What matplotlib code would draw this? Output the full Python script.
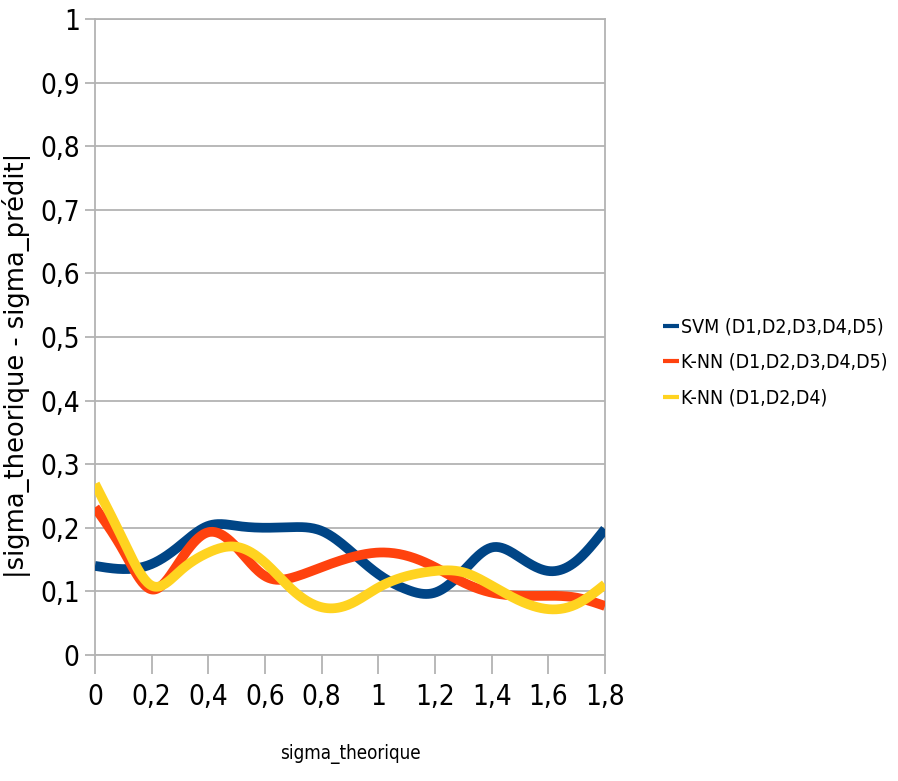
#!/usr/bin/env python3
# Erreur absolue |sigma_theorique - sigma_predit| selon sigma_theorique

import numpy as np
import matplotlib
matplotlib.use("Agg")
import matplotlib.pyplot as plt

plt.rcParams['font.family'] = ['DejaVu Sans']
plt.rcParams['font.stretch'] = 'condensed'

# sigma_theorique (pas de 0,1)
sigma = [0.0, 0.1, 0.2, 0.3, 0.4, 0.5, 0.6, 0.7, 0.8, 0.9,
         1.0, 1.1, 1.2, 1.3, 1.4, 1.5, 1.6, 1.7, 1.8]

svm_all = [0.140, 0.135, 0.143, 0.172, 0.203, 0.203, 0.200, 0.201, 0.195, 0.164,
           0.127, 0.103, 0.098, 0.132, 0.169, 0.153, 0.132, 0.148, 0.198]
knn_all = [0.232, 0.164, 0.103, 0.148, 0.193, 0.169, 0.124, 0.122, 0.138, 0.153,
           0.161, 0.156, 0.138, 0.114, 0.098, 0.093, 0.093, 0.090, 0.077]
knn_124 = [0.269, 0.180, 0.109, 0.132, 0.161, 0.170, 0.145, 0.101, 0.075, 0.080,
           0.106, 0.124, 0.132, 0.130, 0.109, 0.085, 0.072, 0.080, 0.111]

labels = ['SVM (D1,D2,D3,D4,D5)', 'K-NN (D1,D2,D3,D4,D5)', 'K-NN (D1,D2,D4)']
colors = ['#004586', '#ff420e', '#ffd320']

x_ticks = [0, 0.2, 0.4, 0.6, 0.8, 1.0, 1.2, 1.4, 1.6, 1.8]
x_ticklabels = ['0', '0,2', '0,4', '0,6', '0,8', '1', '1,2', '1,4', '1,6', '1,8']
y_ticks = [0, 0.1, 0.2, 0.3, 0.4, 0.5, 0.6, 0.7, 0.8, 0.9, 1.0]
y_ticklabels = ['0', '0,1', '0,2', '0,3', '0,4', '0,5', '0,6', '0,7', '0,8', '0,9', '1']


def natural_spline(x, y, n=400):
    """Courbe lissee (spline cubique naturelle) comme dans le tableur"""
    x = np.asarray(x, float)
    y = np.asarray(y, float)
    k = len(x)
    h = np.diff(x)
    A = np.zeros((k, k))
    b = np.zeros(k)
    A[0, 0] = A[-1, -1] = 1
    for i in range(1, k - 1):
        A[i, i - 1] = h[i - 1]
        A[i, i] = 2 * (h[i - 1] + h[i])
        A[i, i + 1] = h[i]
        b[i] = 3 * ((y[i + 1] - y[i]) / h[i] - (y[i] - y[i - 1]) / h[i - 1])
    c = np.linalg.solve(A, b)
    xs = np.linspace(x[0], x[-1], n)
    idx = np.clip(np.searchsorted(x, xs) - 1, 0, k - 2)
    dx = xs - x[idx]
    hi = h[idx]
    bb = (y[idx + 1] - y[idx]) / hi - hi * (2 * c[idx] + c[idx + 1]) / 3
    dd = (c[idx + 1] - c[idx]) / (3 * hi)
    ys = y[idx] + bb * dx + c[idx] * dx ** 2 + dd * dx ** 3
    return xs, ys


fig = plt.figure(figsize=(8.98, 7.81), dpi=100)
ax = fig.add_axes([0.1058, 0.1614, 0.5679, 0.8143])

for series, label, color in zip([svm_all, knn_all, knn_124], labels, colors):
    xs, ys = natural_spline(sigma, series)
    ax.plot(xs, ys, color=color, lw=7, label=label, solid_capstyle='butt', zorder=3)

ax.set_xlim(0, 1.8)
ax.set_ylim(0, 1)
ax.set_xticks(x_ticks)
ax.set_xticklabels(x_ticklabels)
ax.set_yticks(y_ticks)
ax.set_yticklabels(y_ticklabels)
ax.grid(axis='y', color='#b3b3b3', lw=1.3, zorder=1)
for s in ax.spines.values():
    s.set_color('#b3b3b3')
    s.set_linewidth(1.3)
ax.tick_params(axis='x', length=14, width=1.3, color='#b3b3b3', labelsize=20, pad=6)
ax.tick_params(axis='y', length=7, width=1.3, color='#b3b3b3', labelsize=20, pad=4)

ax.set_xlabel('sigma_theorique', fontsize=13.5, labelpad=24)
ax.set_ylabel('|sigma_theorique - sigma_prédit|', fontsize=18.5, fontstretch='normal')
ax.yaxis.set_label_coords(-0.125, 0.455)

leg = ax.legend(loc='center left', bbox_to_anchor=(1.08, 0.46), frameon=False, fontsize=14,
                handlelength=0.8, handletextpad=0.1, labelspacing=0.85)
for h in leg.legend_handles:
    h.set_linewidth(3)

fig.savefig('out.png', dpi=100)
